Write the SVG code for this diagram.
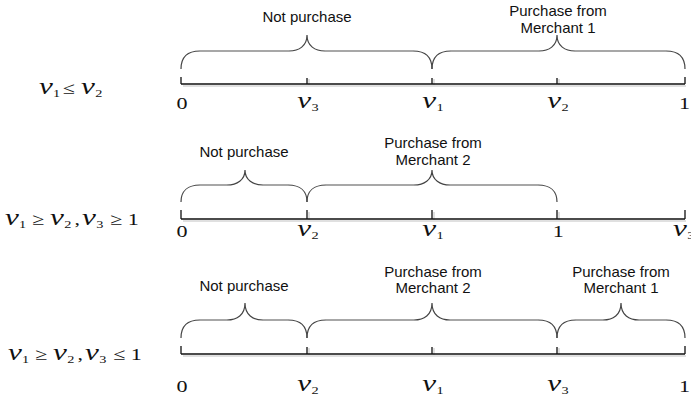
<svg xmlns="http://www.w3.org/2000/svg" width="691" height="404" viewBox="0 0 691 404">
<style>
.lbl{font-family:"Liberation Sans",Arial,sans-serif;font-size:15px;fill:#111;text-anchor:middle}
.m{font-family:"Liberation Serif","Times New Roman",serif;font-size:17px;fill:#111}
.v{font-style:italic;font-size:24px}
.s{font-size:11px}
.ax{stroke:#111;stroke-width:1.3;fill:none}
.sh{stroke:#d6d6d6;stroke-width:1.5;fill:none}
.bl{stroke:#8a8a8a;stroke-width:1.5;fill:none}
.bc{stroke:#444;stroke-width:1.2;fill:none}
</style>
<rect width="691" height="404" fill="#fff"/>
<g id="row1">
  <g id="axis1">
    <path class="sh" d="M183,86 H686 M309,79 V85 M434,79 V85 M559,79 V85"/>
    <path class="ax" d="M181,84 H685 M181,77 V84 M307,78 V84 M432,78 V84 M557,78 V84 M685,77 V84"/>
  </g>
  <g id="brace1a">
    <path class="bl" d="M200,51 L289,51 M325,51 L413,51"/>
    <path class="bc" d="M181,69 C181,57 188,51 200,51 M289,51 C299,51 307,46 307,35 C307,46 315,51 325,51 M413,51 C425,51 432,57 432,69"/>
    <text class="lbl" x="307" y="22">Not purchase</text>
  </g>
  <g id="brace1b">
    <path class="bl" d="M451,51 L539,51 M575,51 L666,51"/>
    <path class="bc" d="M432,69 C432,57 439,51 451,51 M539,51 C549,51 557,46 557,35 C557,46 565,51 575,51 M666,51 C678,51 685,57 685,69"/>
    <text class="lbl" x="558" y="16">Purchase from</text>
    <text class="lbl" x="558" y="33">Merchant 1</text>
  </g>
  <g id="cond1" class="m">
    <text transform="translate(39,94) scale(1.3,1)"><tspan class="v" x="0">v</tspan><tspan class="s" x="10.8" dy="3">1</tspan><tspan x="18" dy="-3">≤</tspan><tspan class="v" x="32.3">v</tspan><tspan class="s" x="43.3" dy="3">2</tspan></text>
  </g>
  <g id="ticks1" class="m">
    <text transform="translate(181,109) scale(1.3,1)" x="0.7" text-anchor="middle">0</text>
    <text transform="translate(307,108) scale(1.3,1)"><tspan class="v" x="-7.5">v</tspan><tspan class="s" x="3.4" dy="3">3</tspan></text>
    <text transform="translate(432,108) scale(1.3,1)"><tspan class="v" x="-7.5">v</tspan><tspan class="s" x="3.4" dy="3">1</tspan></text>
    <text transform="translate(557,108) scale(1.3,1)"><tspan class="v" x="-7.5">v</tspan><tspan class="s" x="3.4" dy="3">2</tspan></text>
    <text transform="translate(685,109) scale(1.3,1)" x="-0.3" text-anchor="middle">1</text>
  </g>
</g>
<g id="row2">
  <g id="axis2">
    <path class="sh" d="M183,221 H686 M309,212 V220 M434,212 V220 M559,212 V220"/>
    <path class="ax" d="M181,219 H685 M181,210 V219 M307,210 V219 M432,210 V219 M557,210 V219 M685,210 V219"/>
  </g>
  <g id="brace2a">
    <path class="bl" d="M200,185 L227,185 M263,185 L288,185"/>
    <path class="bc" d="M181,202 C181,191 188,185 200,185 M227,185 C237,185 245,180 245,170 C245,180 253,185 263,185 M288,185 C300,185 307,191 307,202"/>
    <text class="lbl" x="244" y="157">Not purchase</text>
  </g>
  <g id="brace2b">
    <path class="bl" d="M326,185 L414,185 M450,185 L538,185"/>
    <path class="bc" d="M307,202 C307,191 314,185 326,185 M414,185 C424,185 432,180 432,170 C432,180 440,185 450,185 M538,185 C550,185 557,191 557,202"/>
    <text class="lbl" x="433" y="148">Purchase from</text>
    <text class="lbl" x="433" y="165">Merchant 2</text>
  </g>
  <g id="cond2" class="m">
    <text transform="translate(5,225) scale(1.3,1)"><tspan class="v" x="0">v</tspan><tspan class="s" x="10.8" dy="3">1</tspan><tspan x="20.8" dy="-3">≥</tspan><tspan class="v" x="34.6">v</tspan><tspan class="s" x="45.5" dy="3">2</tspan><tspan x="53.5" dy="-3">,</tspan><tspan class="v" x="59.2">v</tspan><tspan class="s" x="70.1" dy="3">3</tspan><tspan x="80.8" dy="-3">≥</tspan><tspan x="94.5">1</tspan></text>
  </g>
  <g id="ticks2" class="m">
    <text transform="translate(181,237) scale(1.3,1)" x="0.7" text-anchor="middle">0</text>
    <text transform="translate(307,236) scale(1.3,1)"><tspan class="v" x="-7.5">v</tspan><tspan class="s" x="3.4" dy="3">2</tspan></text>
    <text transform="translate(432,236) scale(1.3,1)"><tspan class="v" x="-7.5">v</tspan><tspan class="s" x="3.4" dy="3">1</tspan></text>
    <text transform="translate(557,237) scale(1.3,1)" x="1" text-anchor="middle">1</text>
    <text transform="translate(685,236) scale(1.3,1)"><tspan class="v" x="-9.2">v</tspan><tspan class="s" x="1.7" dy="3">3</tspan></text>
  </g>
</g>
<g id="row3">
  <g id="axis3">
    <path class="sh" d="M183,356 H686 M309,348 V355 M434,348 V355 M559,348 V355"/>
    <path class="ax" d="M181,354 H685 M181,346 V354 M307,347 V354 M432,347 V354 M557,347 V354 M685,346 V354"/>
  </g>
  <g id="brace3a">
    <path class="bl" d="M200,320 L227,320 M263,320 L288,320"/>
    <path class="bc" d="M181,338 C181,326 188,320 200,320 M227,320 C237,320 245,315 245,303 C245,315 253,320 263,320 M288,320 C300,320 307,326 307,338"/>
    <text class="lbl" x="244" y="291">Not purchase</text>
  </g>
  <g id="brace3b">
    <path class="bl" d="M326,320 L414,320 M450,320 L538,320"/>
    <path class="bc" d="M307,338 C307,326 314,320 326,320 M414,320 C424,320 432,315 432,303 C432,315 440,320 450,320 M538,320 C550,320 557,326 557,338"/>
    <text class="lbl" x="433" y="277">Purchase from</text>
    <text class="lbl" x="433" y="293">Merchant 2</text>
  </g>
  <g id="brace3c">
    <path class="bl" d="M576,320 L603,320 M639,320 L666,320"/>
    <path class="bc" d="M557,338 C557,326 564,320 576,320 M603,320 C613,320 621,315 621,303 C621,315 629,320 639,320 M666,320 C678,320 685,326 685,338"/>
    <text class="lbl" x="621" y="277">Purchase from</text>
    <text class="lbl" x="621" y="293">Merchant 1</text>
  </g>
  <g id="cond3" class="m">
    <text transform="translate(8,360) scale(1.3,1)"><tspan class="v" x="0">v</tspan><tspan class="s" x="10.8" dy="3">1</tspan><tspan x="20.8" dy="-3">≥</tspan><tspan class="v" x="34.6">v</tspan><tspan class="s" x="45.5" dy="3">2</tspan><tspan x="53.5" dy="-3">,</tspan><tspan class="v" x="59.2">v</tspan><tspan class="s" x="70.1" dy="3">3</tspan><tspan x="80.8" dy="-3">≤</tspan><tspan x="94.5">1</tspan></text>
  </g>
  <g id="ticks3" class="m">
    <text transform="translate(181,392) scale(1.3,1)" x="0.7" text-anchor="middle">0</text>
    <text transform="translate(307,391) scale(1.3,1)"><tspan class="v" x="-7.5">v</tspan><tspan class="s" x="3.4" dy="3">2</tspan></text>
    <text transform="translate(432,391) scale(1.3,1)"><tspan class="v" x="-7.5">v</tspan><tspan class="s" x="3.4" dy="3">1</tspan></text>
    <text transform="translate(557,391) scale(1.3,1)"><tspan class="v" x="-7.5">v</tspan><tspan class="s" x="3.4" dy="3">3</tspan></text>
    <text transform="translate(685,392) scale(1.3,1)" x="-0.3" text-anchor="middle">1</text>
  </g>
</g>
</svg>
